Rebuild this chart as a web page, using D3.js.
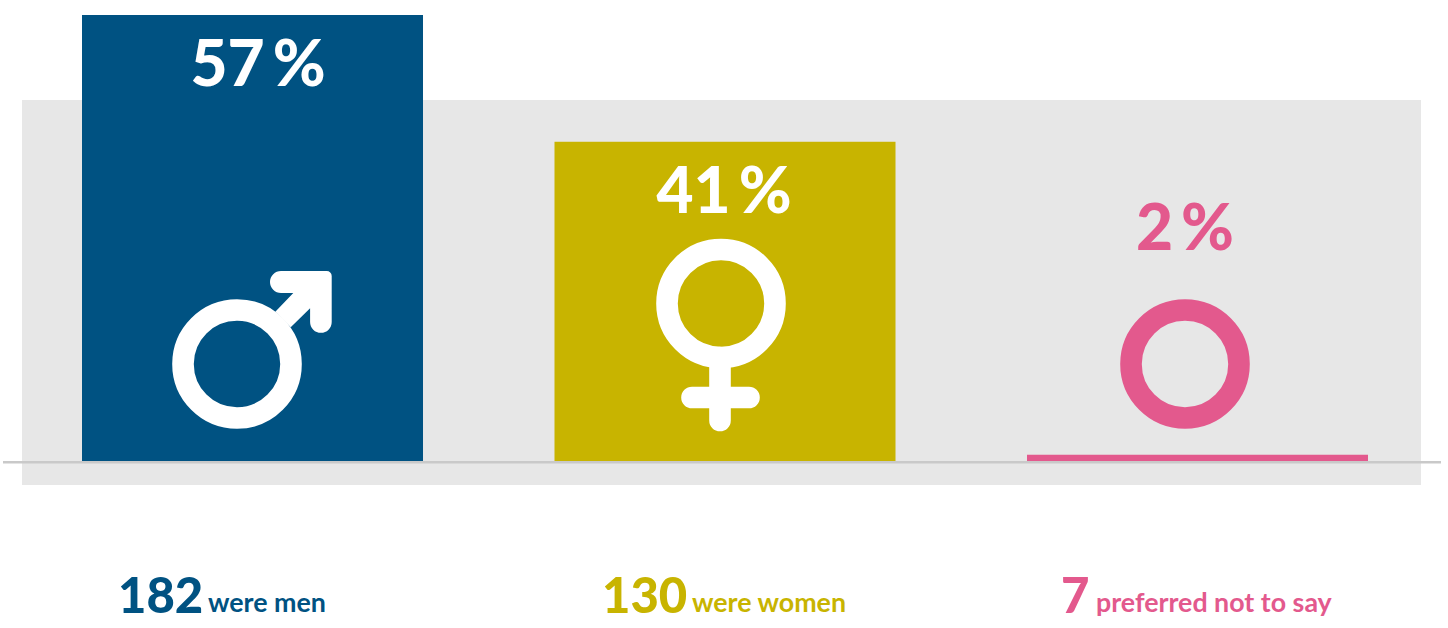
<!DOCTYPE html>
<html lang="en">
<head>
<meta charset="utf-8">
<title>Respondents by gender</title>
<script src="https://cdn.jsdelivr.net/npm/d3@7"></script>
<style>
  html, body { margin: 0; padding: 0; background: #fff; }
  svg { display: block; }
  text { font-family: Lato, sans-serif; }
  .pct { font-size: 64px; font-weight: 900; text-anchor: middle; }
  .count { font-size: 49px; font-weight: 900; }
  .desc { font-size: 26.8px; font-weight: 700; }
</style>
</head>
<body>
<div id="chart"></div>
<script>
// values
var categories = ["men", "women", "undisclosed"];
var percents = [57, 41, 2];
var barValues = [57, 40.8, 0.8];   // height of the bars as drawn, the 2 % bar is drawn thinner than its label
var counts = [182, 130, 7];
var descriptions = ["were men", "were women", "preferred not to say"];
var colors = ["#005282", "#c8b400", "#e3598d"];

var width = 1448, height = 628;

var svg = d3.select("#chart").append("svg")
    .attr("width", width)
    .attr("height", height);

var x = d3.scaleBand()
    .domain(categories)
    .range([82, 1368])
    .paddingInner(0.2783)
    .paddingOuter(0);

var y = d3.scaleLinear()
    .domain([0, 57])
    .range([461, 15]);

// placement of the things around each bar
var pctPos = [[258, 86], [724, 213], [1185, 250]];
var iconPos = [[237, 364], [721, 303.5], [1185, 364]];
var countX = [118, 602, 1061];
var descX = [208, 692, 1096];
var ringR = 54, ringW = 21.6;

svg.append("rect")
    .attr("x", 22).attr("y", 100)
    .attr("width", 1399).attr("height", 385)
    .attr("fill", "#e7e7e7");

svg.append("line")
    .attr("x1", 3).attr("x2", 1441)
    .attr("y1", y(0) + 1.2).attr("y2", y(0) + 1.2)
    .attr("stroke", "#c9c9c9")
    .attr("stroke-width", 2.4);

svg.selectAll("rect.bar")
    .data(categories)
  .enter().append("rect")
    .attr("class", "bar")
    .attr("x", d => x(d))
    .attr("width", x.bandwidth())
    .attr("y", (d, i) => y(barValues[i]))
    .attr("height", (d, i) => y(0) - y(barValues[i]))
    .attr("fill", (d, i) => colors[i]);

var pct = svg.selectAll("text.pct")
    .data(percents)
  .enter().append("text")
    .attr("class", "pct")
    .attr("x", (d, i) => pctPos[i][0])
    .attr("y", (d, i) => pctPos[i][1])
    .attr("fill", (d, i) => i < 2 ? "#fff" : colors[i])
    .text(d => d);

pct.append("tspan")
    .attr("dx", 8)
    .text("%");

// icons
var icon = svg.selectAll("g.icon")
    .data(categories)
  .enter().append("g")
    .attr("class", "icon")
    .attr("transform", (d, i) => "translate(" + iconPos[i] + ")")
    .attr("color", (d, i) => i < 2 ? "#fff" : colors[i]);

icon.append("circle")
    .attr("r", ringR)
    .attr("fill", "none")
    .attr("stroke", "currentColor")
    .attr("stroke-width", ringW);

// arrow of the male sign
icon.filter(d => d == "men").append("path")
    .attr("fill", "currentColor")
    .attr("d", "M44,-93 H89.7 A5,5 0 0 1 94.7,-88 V-42 A10.8,10.8 0 0 1 73.1,-42 V-55.7 L53.7,-36.7 L38.3,-52.3 L56.3,-71 H44 A11,11 0 0 1 44,-93 Z");

// cross of the female sign
icon.filter(d => d == "women").append("path")
    .attr("fill", "none")
    .attr("stroke", "currentColor")
    .attr("stroke-width", ringW)
    .attr("stroke-linecap", "round")
    .attr("d", "M-1,54 V117 M-29,94 H28");

svg.selectAll("text.count")
    .data(counts)
  .enter().append("text")
    .attr("class", "count")
    .attr("x", (d, i) => countX[i])
    .attr("y", 612.5)
    .attr("fill", (d, i) => colors[i])
    .text(d => d);

svg.selectAll("text.desc")
    .data(descriptions)
  .enter().append("text")
    .attr("class", "desc")
    .attr("x", (d, i) => descX[i])
    .attr("y", 612)
    .attr("fill", (d, i) => colors[i])
    .text(d => d);
</script>
</body>
</html>
